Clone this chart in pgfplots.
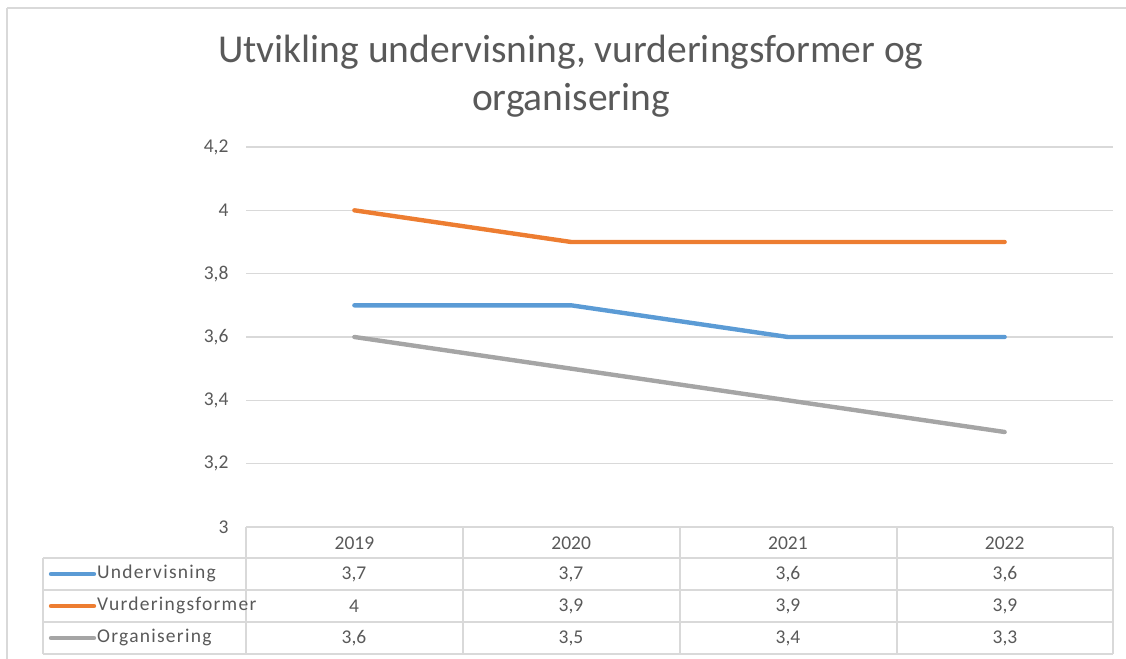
\documentclass[border=0pt]{standalone}
\usepackage{pgfplots}
\pgfplotsset{compat=1.18}
\usepackage{pgfplotstable}
\usepackage{fontspec}
\setmainfont{Carlito}
\newfontfamily\legfont[LetterSpace=6.5]{Carlito}
\definecolor{cblue}{HTML}{5B9BD5}
\definecolor{corange}{HTML}{ED7D31}
\definecolor{cgray}{HTML}{A5A5A5}
\definecolor{gridc}{HTML}{D9D9D9}
\definecolor{txt}{HTML}{595959}
\pgfkeys{/pgf/number format/.cd, use comma, assume math mode=true}
\pgfplotstableread{
x year U V O
0 2019 3.7 4 3.6
1 2020 3.7 3.9 3.5
2 2021 3.6 3.9 3.4
3 2022 3.6 3.9 3.3
}\data
\begin{document}
\begin{tikzpicture}[x=1bp,y=1bp]
\useasboundingbox (0,0) rectangle (1126,659);
% outer border
\draw[gridc, line width=1.5bp] (7,651) -- (1140,651);
\draw[gridc, line width=1.5bp] (7,651) -- (7,-10);
% title
\node[txt, align=center, font=\fontsize{39.5bp}{48bp}\selectfont] at (571,583) {Utvikling undervisning, vurderingsformer og\\organisering};
\begin{axis}[
  at={(246bp,132bp)}, anchor=south west, scale only axis,
  width=867bp, height=380bp,
  xmin=-0.5, xmax=3.5, ymin=3, ymax=4.2,
  ytick={3,3.2,3.4,3.6,3.8,4,4.2},
  yticklabel={\pgfmathprintnumber[fixed,precision=1,use comma,assume math mode=true]{\tick}},
  xtick={0,1,2,3}, xticklabels={2019,2020,2021,2022},
  axis line style={draw=none},
  major tick length=0pt,
  ymajorgrids, grid style={gridc, line width=1.2bp},
  tick label style={txt, font=\fontsize{19.5bp}{22bp}\selectfont},
  yticklabel style={anchor=east, xshift=-14bp},
  xticklabel style={anchor=center, yshift=-16bp},
  clip=false,
]
\addplot[cblue, line width=4.4bp, line join=round, line cap=round] table[x=x,y=U]{\data};
\addplot[corange, line width=4.4bp, line join=round, line cap=round] table[x=x,y=V]{\data};
\addplot[cgray, line width=4.4bp, line join=round, line cap=round] table[x=x,y=O]{\data};
\end{axis}
% data table grid
\begin{scope}[gridc, line width=1.5bp]
\draw (246,132) -- (1113,132);
\foreach \yy in {101,69,37,5} \draw (43,\yy) -- (1113,\yy);
\draw (43,101) -- (43,5);
\foreach \xx in {246,463,680,897,1113} \draw (\xx,132) -- (\xx,5);
\end{scope}
% legend keys
\foreach \yy/\c/\n in {85/cblue/Undervisning,53/corange/Vurderingsformer,21/cgray/Organisering}{
  \draw[\c, line width=4.4bp, line cap=round] (51,\yy) -- (94,\yy);
  \node[txt, anchor=west, inner sep=0pt, font=\legfont\fontsize{19.5bp}{22bp}\selectfont] at (97,\yy+1) {\n};
}
% values
\foreach \r/\xx in {0/354,1/571,2/788,3/1005}{
  \pgfplotstablegetelem{\r}{U}\of\data
  \node[txt, font=\fontsize{19.5bp}{22bp}\selectfont] at (\xx,85) {\pgfmathprintnumber{\pgfplotsretval}};
  \pgfplotstablegetelem{\r}{V}\of\data
  \node[txt, font=\fontsize{19.5bp}{22bp}\selectfont] at (\xx,53) {\pgfmathprintnumber{\pgfplotsretval}};
  \pgfplotstablegetelem{\r}{O}\of\data
  \node[txt, font=\fontsize{19.5bp}{22bp}\selectfont] at (\xx,21) {\pgfmathprintnumber{\pgfplotsretval}};
}
\end{tikzpicture}
\end{document}
